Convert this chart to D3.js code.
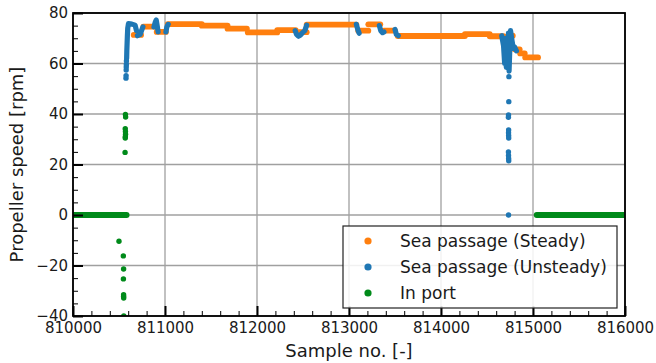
<!DOCTYPE html>
<html>
<head>
<meta charset="utf-8">
<script src="https://cdn.jsdelivr.net/npm/d3@7"></script>
<style>
body { margin: 0; background: #fff; }
svg text { font-family: "DejaVu Sans", sans-serif; fill: #1a1a1a; }
</style>
</head>
<body>
<div id="viz"></div>
<script>

// x ticks / y ticks
var xTicks = [810000, 811000, 812000, 813000, 814000, 815000, 816000];
var yTicks = [-40, -20, 0, 20, 40, 60, 80];

// steady sea passage: plateaus of constant speed
var steadyStart = [810660, 810765, 810910, 811030, 811400, 811680, 811900, 812220, 812460, 812540, 813100, 813210, 813380, 813530, 814260, 814530, 814755, 814800, 814860, 814915];
var steadyEnd   = [810740, 810880, 811010, 811400, 811680, 811890, 812220, 812420, 812540, 813080, 813210, 813340, 813500, 814260, 814530, 814680, 814780, 814855, 814910, 815055];
var steadyRpm   = [71.3, 74.6, 72.5, 75.6, 75.0, 73.8, 72.3, 73.2, 72.4, 75.4, 73.0, 75.5, 73.0, 70.9, 71.6, 70.8, 71.0, 65.6, 64.0, 62.4];

// unsteady sea passage: dense runs of samples [sample, rpm]
var unsteadyRuns = [
  [[810583, 62], [810585, 65], [810588, 68], [810591, 71], [810595, 74], [810603, 75.8], [810640, 75.6], [810675, 75.2], [810690, 73]],
  [[810700, 71], [810730, 71.5], [810745, 73], [810760, 74.5]],
  [[810880, 74.5], [810895, 76.5], [810905, 77.2], [810915, 75], [810925, 72.5]],
  [[811010, 72.5], [811020, 74.5], [811035, 75.5]],
  [[812415, 73], [812430, 71.5], [812450, 70.8], [812470, 71.2], [812490, 72], [812520, 73], [812540, 75.2]],
  [[813080, 75.5], [813095, 73.5], [813110, 72]],
  [[813330, 75], [813345, 73], [813365, 72.2], [813380, 72.5]],
  [[813500, 73.5], [813515, 71.5], [813535, 71]],
  [[814660, 71], [814680, 67], [814692, 60], [814700, 70], [814710, 58.5], [814718, 68], [814726, 61], [814733, 72], [814740, 57], [814748, 66], [814756, 73], [814768, 70], [814785, 66], [814800, 66.5], [814820, 65]]
];
// unsteady sea passage: isolated samples
var unsteadySample = [810576, 810577, 810578, 810579, 810580, 810581, 814738, 814737, 814734, 814733, 814735, 814734, 814735, 814736, 814733, 814734, 814735, 814736, 814734];
var unsteadyRpm    = [54.2, 55.2, 57.4, 58.6, 59.6, 61.0, 54.8, 44.9, 39.6, 38.7, 33.7, 32.6, 31.5, 30.5, 25.0, 23.6, 22.4, 21.5, 0];

// in port
var portStart = [810000, 815040];
var portEnd   = [810583, 816000];
var portSample = [810570, 810572, 810568, 810570, 810571, 810569, 810568, 810566, 810500, 810547, 810550, 810548, 810550, 810550, 810551, 810552];
var portRpm    = [39.8, 38.8, 34.2, 33.1, 32.0, 31.0, 30.5, 24.8, -10.4, -16.2, -21.4, -25.3, -31.6, -32.3, -32.9, -40];

var legendLabels = ["Sea passage (Steady)", "Sea passage (Unsteady)", "In port"];
var colors = ["#ff7f0e", "#1f77b4", "#008a1a"];

var W = 656, H = 363;
var m = {left: 73, top: 13, right: 31, bottom: 47};
var pw = W - m.left - m.right, ph = H - m.top - m.bottom;

var x = d3.scaleLinear().domain([810000, 816000]).range([0, pw]);
var y = d3.scaleLinear().domain([-40, 80]).range([ph, 0]);

var svg = d3.select("#viz").append("svg").attr("width", W).attr("height", H);
svg.append("defs").append("clipPath").attr("id", "clip")
  .append("rect").attr("width", pw).attr("height", ph);

var g = svg.append("g").attr("transform", "translate(" + m.left + "," + m.top + ")");

// grid
g.append("g").selectAll("line").data(xTicks).enter().append("line")
  .attr("x1", function(d){ return x(d); }).attr("x2", function(d){ return x(d); })
  .attr("y1", 0).attr("y2", ph)
  .attr("stroke", "#a0a0a0").attr("stroke-width", 1.3);
g.append("g").selectAll("line").data(yTicks).enter().append("line")
  .attr("y1", function(d){ return y(d); }).attr("y2", function(d){ return y(d); })
  .attr("x1", 0).attr("x2", pw)
  .attr("stroke", "#a0a0a0").attr("stroke-width", 1.3);

var data = g.append("g").attr("clip-path", "url(#clip)");
var band = 5.8, r = 2.7;

// steady
data.append("g").selectAll("line").data(steadyRpm).enter().append("line")
  .attr("x1", function(d, i){ return x(steadyStart[i]); })
  .attr("x2", function(d, i){ return x(steadyEnd[i]); })
  .attr("y1", function(d){ return y(d); }).attr("y2", function(d){ return y(d); })
  .attr("stroke", colors[0]).attr("stroke-width", band).attr("stroke-linecap", "round");

// unsteady
var line = d3.line().x(function(d){ return x(d[0]); }).y(function(d){ return y(d[1]); });
data.append("g").selectAll("path").data(unsteadyRuns).enter().append("path")
  .attr("d", line).attr("fill", "none")
  .attr("stroke", colors[1]).attr("stroke-width", band - 0.6)
  .attr("stroke-linecap", "round").attr("stroke-linejoin", "round");
data.append("g").selectAll("circle").data(unsteadyRpm).enter().append("circle")
  .attr("cx", function(d, i){ return x(unsteadySample[i]); })
  .attr("cy", function(d){ return y(d); })
  .attr("r", r).attr("fill", colors[1]);

// in port
data.append("g").selectAll("line").data(portStart).enter().append("line")
  .attr("x1", function(d){ return x(d); })
  .attr("x2", function(d, i){ return x(portEnd[i]); })
  .attr("y1", y(0)).attr("y2", y(0))
  .attr("stroke", colors[2]).attr("stroke-width", band).attr("stroke-linecap", "round");
data.append("g").selectAll("circle").data(portRpm).enter().append("circle")
  .attr("cx", function(d, i){ return x(portSample[i]); })
  .attr("cy", function(d){ return y(d); })
  .attr("r", r).attr("fill", colors[2]);

// axes, ticks pointing inwards
function minorTicks(lo, hi, step) {
  var t = [];
  for (var v = lo; v <= hi; v += step) t.push(v);
  return t;
}
g.append("g").attr("transform", "translate(0," + ph + ")")
  .call(d3.axisBottom(x).tickValues(minorTicks(810000, 816000, 200)).tickSize(-5).tickFormat(""))
  .call(function(a){ a.select(".domain").remove(); a.selectAll("line").attr("stroke", "#000").attr("stroke-width", 1); });
g.append("g").attr("transform", "translate(0," + ph + ")")
  .call(d3.axisBottom(x).tickValues(xTicks).tickSize(-10).tickPadding(6).tickFormat(d3.format("d")))
  .call(function(a){
    a.select(".domain").remove();
    a.selectAll("line").attr("stroke", "#000").attr("stroke-width", 2);
    a.selectAll("text").attr("font-size", 15).attr("font-family", "DejaVu Sans").attr("fill", "#1a1a1a");
  });
g.append("g")
  .call(d3.axisLeft(y).tickValues(minorTicks(-40, 80, 5)).tickSize(-5).tickFormat(""))
  .call(function(a){ a.select(".domain").remove(); a.selectAll("line").attr("stroke", "#000").attr("stroke-width", 1); });
g.append("g")
  .call(d3.axisLeft(y).tickValues(yTicks).tickSize(-10).tickPadding(5).tickFormat(function(d){ return d < 0 ? "\u2212" + Math.abs(d) : d; }))
  .call(function(a){
    a.select(".domain").remove();
    a.selectAll("line").attr("stroke", "#000").attr("stroke-width", 2);
    a.selectAll("text").attr("font-size", 15).attr("font-family", "DejaVu Sans").attr("fill", "#1a1a1a");
  });

// frame
g.append("rect").attr("width", pw).attr("height", ph)
  .attr("fill", "none").attr("stroke", "#000").attr("stroke-width", 1.8);

// axis titles
svg.append("text").attr("x", m.left + pw / 2).attr("y", 357)
  .attr("text-anchor", "middle").attr("font-size", 18).text("Sample no. [-]");
svg.append("text").attr("transform", "translate(23," + (m.top + ph / 2) + ") rotate(-90)")
  .attr("text-anchor", "middle").attr("font-size", 18).text("Propeller speed [rpm]");

// legend
var lg = svg.append("g").attr("transform", "translate(343,226)");
lg.append("rect").attr("width", 274).attr("height", 82)
  .attr("fill", "#fff").attr("fill-opacity", 0.85)
  .attr("stroke", "#222").attr("stroke-width", 1.2);
var item = lg.selectAll("g.item").data(legendLabels).enter().append("g")
  .attr("class", "item")
  .attr("transform", function(d, i){ return "translate(0," + (15 + i * 26) + ")"; });
item.append("circle").attr("cx", 25).attr("cy", 0).attr("r", 3.6)
  .attr("fill", function(d, i){ return colors[i]; });
item.append("text").attr("x", 57).attr("y", 0).attr("dy", "0.36em")
  .attr("font-size", 17).text(function(d){ return d; });

</script>
</body>
</html>
